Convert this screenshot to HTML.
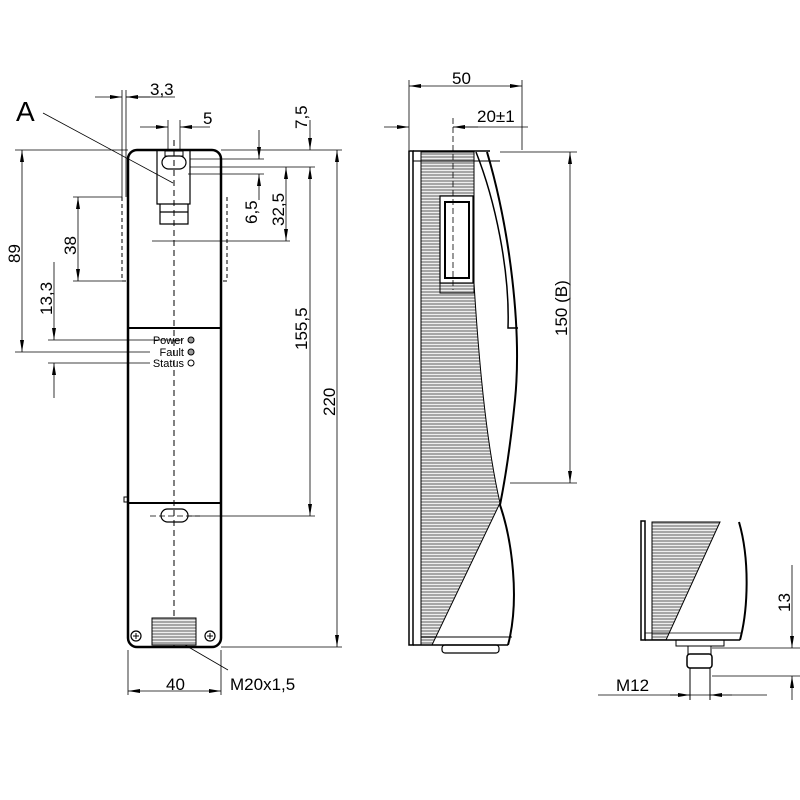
<!DOCTYPE html>
<html><head><meta charset="utf-8"><style>html,body{margin:0;padding:0;background:#fff}svg{display:block}</style></head><body>
<svg width="800" height="800" viewBox="0 0 800 800" xmlns="http://www.w3.org/2000/svg" font-family="Liberation Sans, sans-serif">
<defs>
<pattern id="h" width="6" height="3" patternUnits="userSpaceOnUse"><rect width="6" height="3" fill="#a6a6a6"/><rect y="2" width="6" height="1" fill="#eeeeee"/></pattern>
<marker id="a" markerWidth="12" markerHeight="6" refX="12" refY="3" orient="auto-start-reverse" markerUnits="userSpaceOnUse"><path d="M0,1 L12,3 L0,5 z" fill="#000"/></marker>
</defs>
<g stroke="#000" fill="none">
<rect x="128" y="150" width="93" height="497" rx="9" stroke-width="2.5"/>
<line x1="128" y1="328" x2="221" y2="328" stroke-width="2"/>
<line x1="128" y1="503" x2="221" y2="503" stroke-width="2"/>
<rect x="124" y="497" width="4" height="5" stroke-width="1"/>
<line x1="174" y1="140" x2="174" y2="650" stroke-width="1" stroke-dasharray="6,4"/>
<path d="M157 151 V204 H190 V151" stroke-width="1.2"/>
<path d="M160 204 V224 H188 V204 M160 212 H188" stroke-width="1.2"/>
<rect x="162" y="156" width="24" height="13" rx="6.5" stroke-width="1.2"/>
<rect x="165" y="151" width="18" height="5" stroke-width="1"/>
<path d="M122 197 V281 H128 M227 197 V281 H221" stroke-dasharray="4,3" stroke-width="1"/>
<rect x="161" y="509" width="27" height="13" rx="6.5" stroke-width="1.2"/>
<line x1="150" y1="516" x2="200" y2="516" stroke-dasharray="6,3" stroke-width="0.8"/>
<circle cx="191" cy="340" r="3" fill="#999" stroke-width="1"/>
<circle cx="191" cy="352" r="3" fill="#999" stroke-width="1"/>
<circle cx="191" cy="363" r="3" fill="#fff" stroke-width="1"/>
<rect x="152" y="618" width="44" height="27" fill="url(#h)" stroke-width="1"/>
<circle cx="136" cy="636" r="5" stroke-width="1.2"/><path d="M133 636 h6 M136 633 v6"/>
<circle cx="210" cy="636" r="5" stroke-width="1.2"/><path d="M207 636 h6 M210 633 v6"/>
<g stroke-width="0.8">
<line x1="122" y1="90" x2="122" y2="197"/><line x1="126" y1="90" x2="126" y2="197"/>
<line x1="95" y1="97" x2="122" y2="97" marker-end="url(#a)"/><line x1="150" y1="97" x2="126" y2="97" marker-end="url(#a)"/><line x1="126" y1="97" x2="175" y2="97"/>
<line x1="168" y1="120" x2="168" y2="150"/><line x1="180" y1="120" x2="180" y2="150"/>
<line x1="140" y1="127" x2="168" y2="127" marker-end="url(#a)"/><line x1="210" y1="127" x2="180" y2="127" marker-end="url(#a)"/>
<line x1="43" y1="113" x2="173" y2="183"/>
<line x1="15" y1="150" x2="128" y2="150"/><line x1="221" y1="150" x2="342" y2="150"/>
<line x1="15" y1="352" x2="150" y2="352"/>
<line x1="22" y1="150" x2="22" y2="352" marker-start="url(#a)" marker-end="url(#a)"/>
<line x1="73" y1="197" x2="122" y2="197"/><line x1="73" y1="281" x2="122" y2="281"/>
<line x1="78" y1="197" x2="78" y2="281" marker-start="url(#a)" marker-end="url(#a)"/>
<line x1="48" y1="340" x2="183" y2="340"/><line x1="48" y1="363" x2="150" y2="363"/>
<line x1="54" y1="262" x2="54" y2="340" marker-end="url(#a)"/><line x1="54" y1="398" x2="54" y2="363" marker-end="url(#a)"/>
<line x1="190" y1="159" x2="264" y2="159"/><line x1="190" y1="167" x2="315" y2="167"/><line x1="188" y1="174" x2="264" y2="174"/>
<line x1="259" y1="130" x2="259" y2="159" marker-end="url(#a)"/><line x1="259" y1="200" x2="259" y2="174" marker-end="url(#a)"/>
<line x1="152" y1="241" x2="290" y2="241"/>
<line x1="286" y1="167" x2="286" y2="241" marker-start="url(#a)" marker-end="url(#a)"/>
<line x1="310" y1="120" x2="310" y2="150" marker-end="url(#a)"/><line x1="310" y1="167" x2="310" y2="516" marker-start="url(#a)" marker-end="url(#a)"/>
<line x1="188" y1="516" x2="315" y2="516"/>
<line x1="337" y1="150" x2="337" y2="647" marker-start="url(#a)" marker-end="url(#a)"/>
<line x1="221" y1="647" x2="342" y2="647"/>
<line x1="128" y1="650" x2="128" y2="695"/><line x1="221" y1="650" x2="221" y2="695"/>
<line x1="128" y1="691" x2="221" y2="691" marker-start="url(#a)" marker-end="url(#a)"/>
<line x1="185" y1="645" x2="228" y2="670"/>
</g>
<rect x="409" y="151" width="4" height="494" stroke-width="1.5"/>
<g stroke-width="1"><path d="M413 168v27M413 222v27M413 277v27M413 332v27M413 387v27M413 442v27M413 497v27M413 552v27M413 607v27"/></g>
<path d="M421 152 H474 V293 H440 V283 H474 C480 380 488 450 500 503 L432 645 H421 Z" fill="url(#h)" stroke-width="1"/>
<rect x="440" y="196" width="33" height="87" fill="#fff" stroke-width="1.2"/>
<rect x="445" y="202" width="24" height="76" stroke-width="2"/>
<line x1="413" y1="151" x2="490" y2="151" stroke-width="1.5"/>
<line x1="413" y1="161" x2="500" y2="161" stroke-width="1"/>
<path d="M487 152 C510 230 522 330 515 400 C510 450 505 480 500 505 C512 540 520 600 508 645" stroke-width="2"/>
<path d="M476 152 C495 200 510 270 508 328 H518" stroke-width="1.5"/>
<line x1="413" y1="645" x2="508" y2="645" stroke-width="1.5"/>
<line x1="421" y1="637" x2="512" y2="637" stroke-width="1"/>
<rect x="442" y="645" width="57" height="8" rx="3" stroke-width="1.2"/>
<g stroke-width="0.8">
<line x1="409" y1="80" x2="409" y2="150"/><line x1="522" y1="80" x2="522" y2="150"/>
<line x1="409" y1="86" x2="522" y2="86" marker-start="url(#a)" marker-end="url(#a)"/>
<line x1="384" y1="127" x2="409" y2="127" marker-end="url(#a)"/><line x1="478" y1="127" x2="453" y2="127" marker-end="url(#a)"/><line x1="453" y1="127" x2="528" y2="127"/>
<line x1="453" y1="118" x2="453" y2="290" stroke-dasharray="6,3"/>
<line x1="500" y1="152" x2="577" y2="152"/><line x1="510" y1="483" x2="577" y2="483"/>
<line x1="570" y1="152" x2="570" y2="483" marker-start="url(#a)" marker-end="url(#a)"/>
</g>
<rect x="641" y="521" width="4" height="119" stroke-width="1.5"/>
<path d="M645 540v25M645 598v25" stroke-width="1"/>
<path d="M652 522 H720 L666 640 H652 Z" fill="url(#h)" stroke-width="1"/>
<path d="M739 522 C750 560 748 610 740 640" stroke-width="2"/>
<line x1="645" y1="640" x2="740" y2="640" stroke-width="1.5"/>
<line x1="645" y1="633" x2="742" y2="633" stroke-width="0.8"/>
<rect x="676" y="640" width="48" height="6" stroke-width="1"/>
<rect x="688" y="646" width="23" height="8" stroke-width="1"/>
<rect x="687" y="654" width="25" height="14" rx="3" stroke-width="1.5"/>
<path d="M690 668 V700 M710 668 V700" stroke-width="1"/>
<g stroke-width="0.8">
<line x1="712" y1="648" x2="800" y2="648"/><line x1="712" y1="676" x2="800" y2="676"/>
<line x1="792" y1="565" x2="792" y2="648" marker-end="url(#a)"/><line x1="792" y1="700" x2="792" y2="676" marker-end="url(#a)"/>
<line x1="598" y1="695" x2="767" y2="695"/>
<line x1="670" y1="695" x2="690" y2="695" marker-end="url(#a)"/><line x1="732" y1="695" x2="710" y2="695" marker-end="url(#a)"/>
</g>
</g>
<g fill="#000" font-size="17">
<text x="16" y="121" font-size="28">A</text>
<text x="150" y="95">3,3</text>
<text x="203" y="124">5</text>
<text transform="translate(20,263) rotate(-90)">89</text>
<text transform="translate(76,255) rotate(-90)">38</text>
<text transform="translate(52,315) rotate(-90)">13,3</text>
<text transform="translate(257,224) rotate(-90)">6,5</text>
<text transform="translate(284,226) rotate(-90)">32,5</text>
<text transform="translate(307,129) rotate(-90)">7,5</text>
<text transform="translate(307,350) rotate(-90)">155,5</text>
<text transform="translate(335,416) rotate(-90)">220</text>
<text x="166" y="690">40</text>
<text x="230" y="690">M20x1,5</text>
<text x="452" y="84">50</text>
<text x="477" y="122">20±1</text>
<text transform="translate(567,336) rotate(-90)">150 (B)</text>
<text transform="translate(790,612) rotate(-90)">13</text>
<text x="616" y="691">M12</text>
<g font-size="11" text-anchor="end"><text x="184" y="344">Power</text><text x="184" y="356">Fault</text><text x="184" y="367">Status</text></g>
</g>
</svg>
</body></html>
